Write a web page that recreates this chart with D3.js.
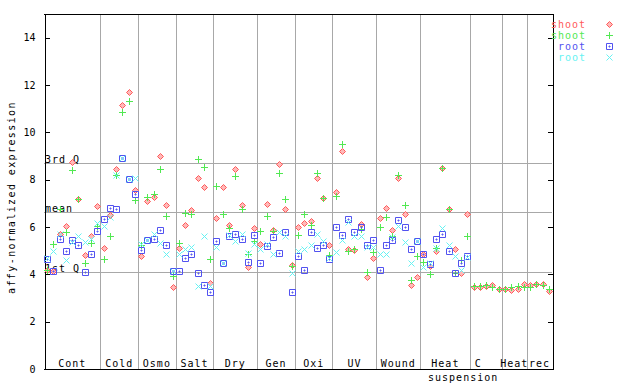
<!DOCTYPE html>
<html lang="en">
<head>
<meta charset="UTF-8">
<title>expression</title>
<style>
  body { margin: 0; background: #fff; }
  svg text { font-family: "DejaVu Sans Mono", monospace; font-size: 10px; }
</style>
</head>
<body>
<div id="chart"></div>
<script src="https://cdnjs.cloudflare.com/ajax/libs/d3/7.8.5/d3.min.js"></script>
<script>
// groups along the x axis and how many samples each has
const groups     = ["Cont", "Cold", "Osmo", "Salt", "Dry", "Gen", "Oxi", "UV", "Wound", "Heat", "C suspension", "Heat", "rec"];
const groupSizes = [9, 6, 6, 6, 7, 6, 6, 7, 7, 8, 5, 4, 4];

const yTicks     = [0, 2, 4, 6, 8, 10, 12, 14];
const statNames  = ["3rd Q", "mean", "1st Q"];
const statValues = [8.69, 6.62, 4.09];

const seriesNames  = ["shoot", "shoot", "root", "root"];
const seriesColors = ["#ff5a5a", "#52e852", "#5252f0", "#66f2f2"];
const seriesShapes = ["diamond", "plus", "square", "cross"];

const shootA = [4.20, 4.12, 5.71, 6.03, 8.76, 7.20, 4.81, 5.64, 6.88,
  5.13, 6.51, 8.44, 11.14, 11.71, 7.57,
  4.79, 7.08, 7.27, 9.02, 6.91, 3.45,
  5.12, 6.10, 6.71, 8.09, 7.67, 3.64,
  6.40, 7.67, 6.10, 8.47, 6.91, 4.29, 5.94,
  5.30, 6.99, 5.86, 8.68, 6.74, 4.39,
  5.99, 6.19, 6.24, 8.09, 7.24, 5.23,
  7.50, 9.23, 5.05, 5.02, 6.12, 3.90, 4.71,
  6.36, 6.82, 5.89, 8.07, 6.53, 3.55, 3.87,
  4.88, 4.36, 4.98, 8.49, 6.74, 5.05, 4.05, 6.53,
  3.48, 3.48, 3.52, 3.54, 3.39,
  3.39, 3.33, 3.39, 3.59,
  3.54, 3.59, 3.59, 3.31];
const shootB = [4.20, 5.30, 6.78, 5.79, 8.42, 7.20, 4.49, 5.33, 6.05,
  4.63, 5.61, 8.21, 10.87, 11.34, 7.12,
  5.26, 7.28, 7.41, 8.47, 6.48, 3.95,
  5.34, 6.61, 6.57, 8.89, 8.55, 4.63,
  7.75, 6.57, 5.94, 8.17, 6.74, 4.85, 5.41,
  5.82, 6.48, 5.83, 8.30, 7.20, 4.35,
  5.68, 6.53, 6.10, 8.30, 7.24, 4.81,
  7.29, 9.52, 4.98, 5.09, 5.90, 4.08, 4.95,
  5.98, 6.44, 5.60, 8.21, 6.91, 3.75, 4.76,
  4.54, 4.00, 5.10, 8.50, 6.75, 4.04, 4.60, 5.61,
  3.52, 3.52, 3.53, 3.45, 3.40,
  3.40, 3.47, 3.52, 3.47,
  3.45, 3.61, 3.57, 3.40];
const rootA = [4.66, 4.12, 5.51, 4.97, 5.46, 5.22, 4.08, 4.84, 5.85,
  6.32, 6.79, 6.75, 8.93, 8.04, 7.41,
  5.02, 5.46, 5.51, 5.89, 5.22, 4.15,
  4.13, 4.71, 4.88, 4.04, 3.53, 3.24,
  5.39, 4.50, 5.63, 5.72, 5.51, 4.54, 5.68,
  4.50, 5.18, 5.56, 4.92, 5.77, 3.24,
  4.77, 4.20, 5.77, 5.13, 5.26, 4.63,
  5.99, 5.65, 6.32, 5.77, 5.99, 5.22, 5.43,
  4.20, 5.22, 5.43, 6.29, 5.98, 5.09, 5.40,
  4.88, 4.43, 5.51, 5.72, 4.97, 4.04, 4.50, 4.79,
  null, null, null, null, null,
  null, null, null, null,
  null, null, null, null];
const rootB = [4.70, 4.97, 5.72, 4.59, 5.37, 5.64, 5.37, 5.50, 6.19,
  6.03, 6.43, 8.19, 8.93, 8.04, 8.09,
  5.30, 5.46, 5.70, 5.33, 4.88, 4.15,
  4.88, 5.05, 5.16, 3.49, 5.64, 3.50,
  5.16, 4.50, 5.66, 5.42, 5.72, 4.92, 5.30,
  5.05, 5.30, 4.88, 5.79, 5.64, 4.04,
  4.98, 5.05, 5.22, 5.72, 5.39, 4.70,
  4.95, 5.47, 6.23, 5.64, 5.64, 5.16, 5.16,
  4.88, 4.85, 5.56, 6.03, 5.35, 4.46, 5.40,
  4.29, 4.50, 5.10, 5.95, 5.22, 4.76, 4.20, 4.73,
  null, null, null, null, null,
  null, null, null, null,
  null, null, null, null];
const series = [shootA, shootB, rootA, rootB];

const W = 640, H = 384;
const margin = {top: 14, right: 88, bottom: 15, left: 44};
const nSamples = d3.sum(groupSizes);

const svg = d3.select("#chart").append("svg").attr("width", W).attr("height", H);

const x = d3.scaleBand().domain(d3.range(nSamples)).range([margin.left, W - margin.right]);
const y = d3.scaleLinear().domain([0, 15]).range([H - margin.bottom, margin.top]);
const cx = i => Math.round(x(i) + x.bandwidth() / 2) + 0.5;
const cy = v => Math.round(y(v)) + 0.5;

// group start indices
const starts = groupSizes.map((s, k) => d3.sum(groupSizes.slice(0, k)));

const grid = svg.append("g").attr("stroke", "#a8a8a8").attr("shape-rendering", "crispEdges");
starts.slice(1).forEach(s => {
  const gx = Math.round(x(s)) + 0.5;
  grid.append("line").attr("x1", gx).attr("x2", gx).attr("y1", y(15)).attr("y2", y(0));
});
statValues.forEach(v => {
  grid.append("line").attr("x1", x.range()[0]).attr("x2", x.range()[1]).attr("y1", cy(v)).attr("y2", cy(v));
});

svg.append("g").selectAll("text").data(statNames).join("text")
  .attr("x", margin.left + 1).attr("y", (d, k) => cy(statValues[k]) - 1)
  .attr("letter-spacing", 1).text(d => d);

// axes: left with inward ticks, right with inward ticks
const left = svg.append("g").attr("transform", `translate(${margin.left + 0.5},0)`)
  .call(d3.axisLeft(y).tickValues(yTicks).tickSize(-5).tickPadding(9).tickFormat(d3.format("d")));
const right = svg.append("g").attr("transform", `translate(${W - margin.right + 0.5},0)`)
  .call(d3.axisRight(y).tickValues(yTicks).tickSize(-5).tickFormat(""));
[left, right].forEach(a => {
  a.attr("shape-rendering", "crispEdges");
  a.select(".domain").attr("stroke", "#000");
  a.selectAll("text").attr("font-family", "DejaVu Sans Mono").attr("font-size", 10);
});

// top and bottom borders
svg.append("g").attr("stroke", "#000").attr("shape-rendering", "crispEdges")
  .selectAll("line").data([15, 0]).join("line")
  .attr("x1", x.range()[0]).attr("x2", x.range()[1] + 1)
  .attr("y1", d => Math.round(y(d)) + 0.5).attr("y2", d => Math.round(y(d)) + 0.5);

// group labels
const lab = svg.append("g").attr("text-anchor", "middle").attr("letter-spacing", 1);
groups.forEach((g, k) => {
  const mid = (x(starts[k]) + x(starts[k] + groupSizes[k] - 1) + x.bandwidth()) / 2;
  const parts = g.split(" ");
  if (parts.length > 1) {
    lab.append("text").attr("x", mid - 8).attr("y", H - margin.bottom - 2).text(parts[0]);
    lab.append("text").attr("x", mid - 23).attr("y", H - 3).text(parts[1]);
  } else {
    lab.append("text").attr("x", mid).attr("y", H - margin.bottom - 2).text(g);
  }
});

svg.append("text").attr("transform", `translate(15,${(y(0) + y(15)) / 2 + 6}) rotate(-90)`)
  .attr("text-anchor", "middle").attr("letter-spacing", 1.4).text("affy-normalized expression");

// marker shapes
const shapes = {
  diamond: "M0,-3L3,0L0,3L-3,0Z",
  plus:    "M-3.5,0H3.5M0,-3.5V3.5",
  square:  "M-3,-3H3V3H-3Z M-0.5,-0.5H0.5V0.5H-0.5Z",
  cross:   "M-3,-3L3,3M-3,3L3,-3"
};
function marker(sel, shape, color) {
  sel.append("path").attr("d", shapes[shape])
    .attr("fill", shape === "diamond" ? "#ffb8b8" : "none")
    .attr("stroke", color).attr("stroke-width", 1);
}

series.forEach((vals, s) => {
  const g = svg.append("g");
  vals.forEach((v, i) => {
    if (v == null) return;
    const m = g.append("g").attr("transform", `translate(${cx(i)},${cy(v)})`);
    marker(m, seriesShapes[s], seriesColors[s]);
  });
});

// legend
const leg = svg.append("g");
seriesNames.forEach((n, s) => {
  const ly = 24 + s * 11;
  leg.append("text").attr("x", 586).attr("y", ly + 3.5).attr("text-anchor", "end")
    .attr("letter-spacing", 1).attr("fill", seriesColors[s]).text(n);
  marker(leg.append("g").attr("transform", `translate(609.5,${ly + 0.5})`), seriesShapes[s], seriesColors[s]);
});
</script>
</body>
</html>
